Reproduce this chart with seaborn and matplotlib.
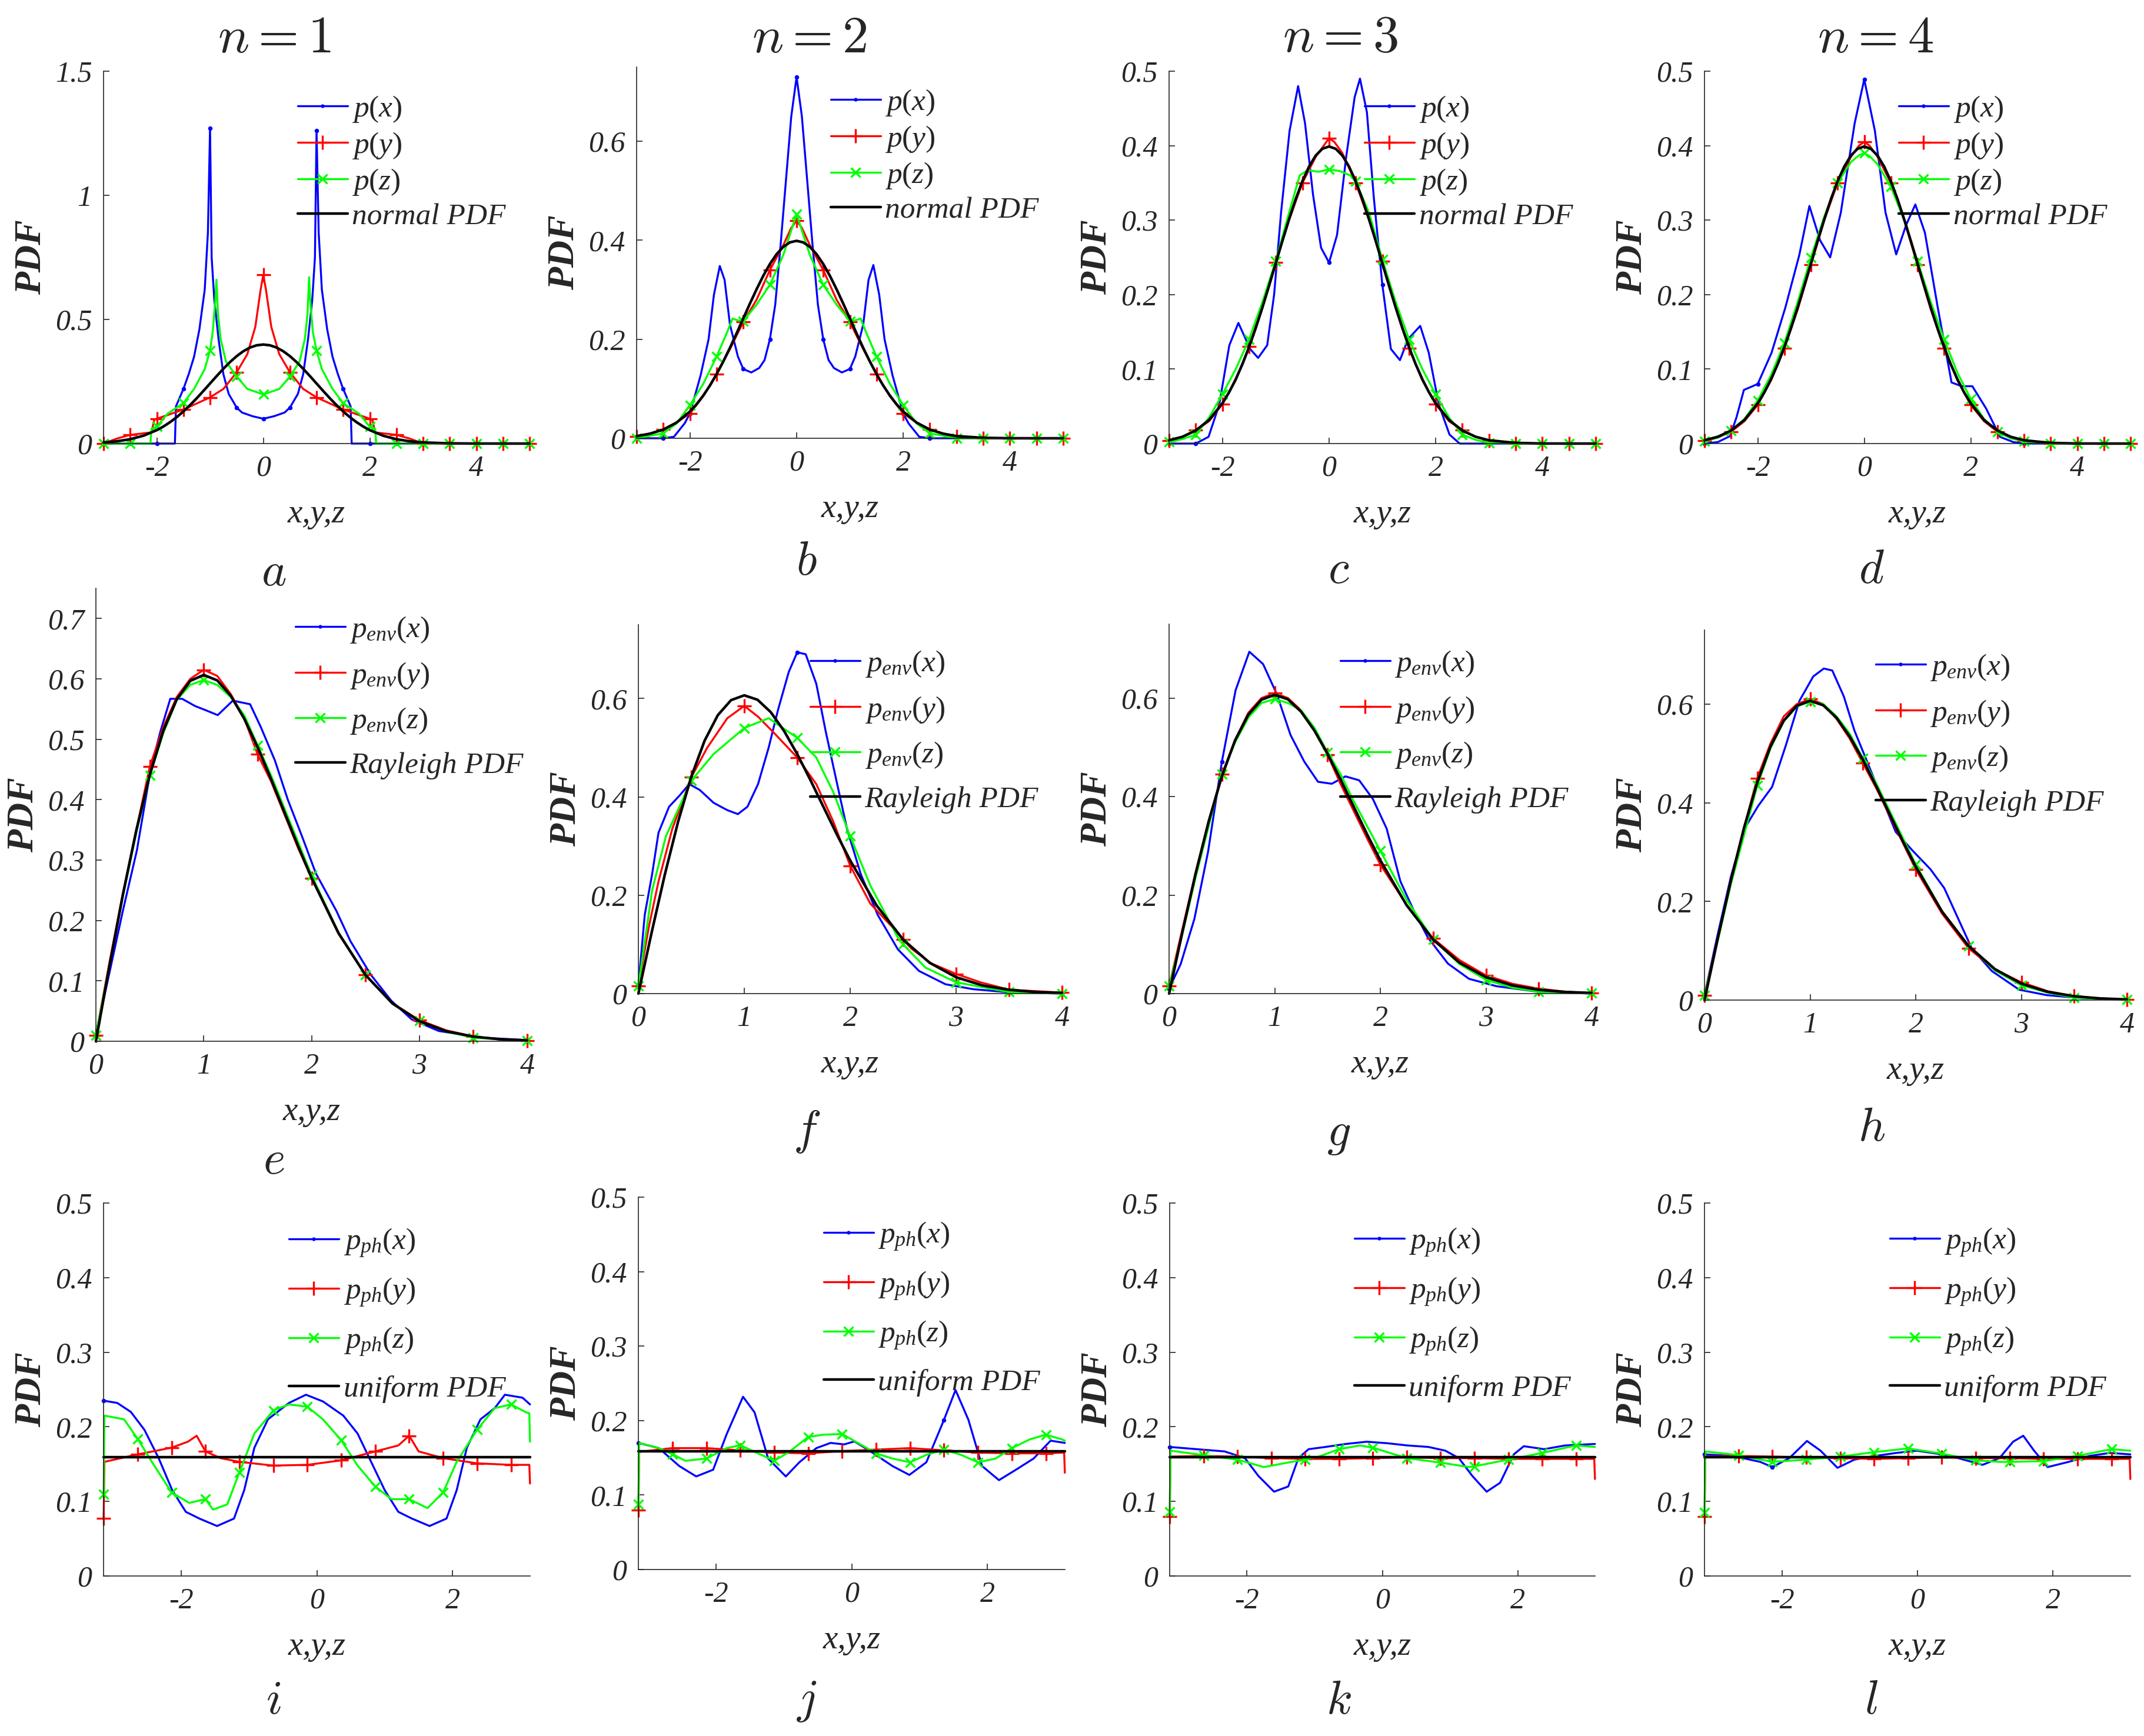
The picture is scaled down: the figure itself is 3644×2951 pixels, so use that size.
import numpy as np
import matplotlib
matplotlib.use("Agg")
import matplotlib.pyplot as plt
from matplotlib.lines import Line2D
import seaborn as sns

# -----------------------------
# DATA
# -----------------------------

# theoretical reference curves
norm_x = [-3, -2.75, -2.5, -2.25, -2, -1.875, -1.75, -1.625, -1.5, -1.375, -1.25, -1.125, -1,
          -0.875, -0.75, -0.625, -0.5, -0.375, -0.25, -0.125, 0, 0.125, 0.25, 0.375, 0.5, 0.625,
          0.75, 0.875, 1, 1.125, 1.25, 1.375, 1.5, 1.625, 1.75, 1.875, 2, 2.25, 2.5, 2.75, 3,
          3.5, 4, 4.5, 5]
norm_y = [0.0044, 0.0091, 0.0175, 0.0317, 0.0540, 0.0688, 0.0863, 0.1065, 0.1295, 0.1550, 0.1826,
          0.2119, 0.2420, 0.2721, 0.3011, 0.3282, 0.3521, 0.3719, 0.3867, 0.3958, 0.3989, 0.3958,
          0.3867, 0.3719, 0.3521, 0.3282, 0.3011, 0.2721, 0.2420, 0.2119, 0.1826, 0.1550, 0.1295,
          0.1065, 0.0863, 0.0688, 0.0540, 0.0317, 0.0175, 0.0091, 0.0044, 0.0009, 0.0001, 0.0, 0.0]

env_x = [0, 0.125, 0.25, 0.375, 0.5, 0.625, 0.75, 0.875, 1, 1.125, 1.25, 1.375, 1.5, 1.625,
         1.75, 1.875, 2, 2.25, 2.5, 2.75, 3, 3.25, 3.5, 3.75, 4]
ray_y = [0, 0.124, 0.2423, 0.3495, 0.4412, 0.5141, 0.5661, 0.5967, 0.6065, 0.5975, 0.5723,
         0.5343, 0.4870, 0.4340, 0.3785, 0.3233, 0.2707, 0.1791, 0.1098, 0.0627, 0.0333,
         0.0166, 0.0077, 0.0033, 0.0013]

unif_x = [-3.1416, 3.1416]
unif_y = [0.159, 0.159]

bell_x = [-3, -2.75, -2.5, -2.25, -2, -1.75, -1.5, -1.25, -1, -0.75, -0.5, -0.25, -0.1, 0, 0.1,
          0.25, 0.5, 0.75, 1, 1.25, 1.5, 1.75, 2, 2.25, 2.5, 2.75, 3, 3.5, 4, 4.5, 5]

# n = 1 (a)
a_blue_x = [-3, -2.5, -2, -1.66, -1.64, -1.5, -1.4, -1.3, -1.2, -1.1, -1.04, -1.0, -0.97, -0.92,
            -0.84, -0.75, -0.65, -0.5, -0.4, -0.2, 0, 0.2, 0.4, 0.5, 0.65, 0.75, 0.84, 0.92,
            0.97, 1.0, 1.04, 1.1, 1.2, 1.3, 1.4, 1.5, 1.64, 1.66, 2, 2.5, 3, 3.5, 4, 4.5, 5]
a_blue_y = [0, 0, 0, 0, 0.15, 0.22, 0.28, 0.35, 0.46, 0.62, 0.85, 1.27, 0.75, 0.58, 0.42, 0.28,
            0.2, 0.145, 0.125, 0.11, 0.10, 0.11, 0.125, 0.145, 0.2, 0.28, 0.42, 0.58, 0.75, 1.26,
            0.85, 0.62, 0.46, 0.35, 0.28, 0.22, 0.15, 0, 0, 0, 0, 0, 0, 0, 0]
a_red_x = [-3, -2.75, -2.5, -2.1, -2.05, -2, -1.5, -1, -0.75, -0.5, -0.3, -0.15, -0.05, 0, 0.05,
           0.15, 0.3, 0.5, 0.75, 1, 1.5, 2, 2.05, 2.1, 2.5, 2.75, 3, 3.5, 4, 4.5, 5]
a_red_y = [0, 0.02, 0.035, 0.045, 0.095, 0.1, 0.137, 0.186, 0.22, 0.287, 0.36, 0.47, 0.62, 0.68,
           0.62, 0.47, 0.36, 0.287, 0.22, 0.186, 0.137, 0.1, 0.095, 0.045, 0.035, 0.02, 0, 0, 0,
           0, 0]
a_green_x = [-3, -2.5, -2.12, -2.1, -2, -1.8, -1.5, -1.3, -1.1, -1.0, -0.95, -0.9, -0.88, -0.85,
             -0.8, -0.7, -0.5, -0.3, 0, 0.3, 0.5, 0.68, 0.78, 0.83, 0.86, 0.88, 0.93, 1.0, 1.1,
             1.3, 1.5, 1.8, 2, 2.1, 2.12, 2.5, 3, 3.5, 4, 4.5, 5]
a_green_y = [0, 0, 0, 0.06, 0.068, 0.12, 0.163, 0.22, 0.3, 0.375, 0.45, 0.58, 0.66, 0.52, 0.42,
             0.33, 0.27, 0.22, 0.198, 0.22, 0.27, 0.33, 0.42, 0.52, 0.67, 0.58, 0.45, 0.375, 0.3,
             0.22, 0.163, 0.12, 0.068, 0.06, 0, 0, 0, 0, 0, 0, 0]

# n = 2 (b)
b_blue_x = [-3, -2.5, -2.3, -2.1, -2.0, -1.8, -1.65, -1.55, -1.44, -1.35, -1.25, -1.1, -1.0,
            -0.85, -0.7, -0.6, -0.5, -0.4, -0.3, -0.2, -0.1, 0, 0.1, 0.2, 0.3, 0.4, 0.5, 0.6,
            0.7, 0.85, 1.0, 1.1, 1.25, 1.35, 1.44, 1.55, 1.65, 1.8, 2.0, 2.1, 2.3, 2.5, 3, 3.5,
            4, 4.5, 5]
b_blue_y = [0, 0, 0.003, 0.03, 0.05, 0.127, 0.2, 0.29, 0.348, 0.32, 0.23, 0.165, 0.14, 0.133,
            0.142, 0.158, 0.2, 0.27, 0.39, 0.52, 0.65, 0.73, 0.65, 0.52, 0.39, 0.27, 0.2, 0.158,
            0.142, 0.133, 0.14, 0.165, 0.23, 0.32, 0.35, 0.29, 0.2, 0.127, 0.05, 0.03, 0.003, 0,
            0, 0, 0, 0, 0]
b_red_y = [0.004, 0.01, 0.018, 0.032, 0.05, 0.085, 0.13, 0.18, 0.235, 0.28, 0.34, 0.39, 0.425,
           0.44, 0.425, 0.39, 0.34, 0.28, 0.235, 0.18, 0.13, 0.085, 0.05, 0.032, 0.018, 0.01,
           0.004, 0, 0, 0, 0]
b_green_x = [-3, -2.5, -2.25, -2, -1.75, -1.5, -1.3, -1.2, -1.1, -1, -0.75, -0.5, -0.25, -0.1, 0,
             0.1, 0.25, 0.5, 0.75, 1, 1.1, 1.2, 1.3, 1.5, 1.75, 2, 2.25, 2.5, 3, 3.5, 4, 4.5, 5]
b_green_y = [0, 0.01, 0.03, 0.067, 0.11, 0.165, 0.215, 0.242, 0.238, 0.237, 0.27, 0.31, 0.37,
             0.42, 0.453, 0.42, 0.37, 0.31, 0.27, 0.237, 0.238, 0.242, 0.215, 0.165, 0.11, 0.067,
             0.03, 0.01, 0, 0, 0, 0, 0]

# n = 3 (c)
c_blue_x = [-3, -2.5, -2.26, -2.06, -1.87, -1.7, -1.48, -1.33, -1.16, -1.03, -0.9, -0.74, -0.58,
            -0.45, -0.3, -0.15, 0, 0.15, 0.32, 0.48, 0.58, 0.71, 0.84, 1.0, 1.16, 1.33, 1.48,
            1.71, 1.87, 2.06, 2.26, 2.45, 3, 3.5, 4, 4.5, 5]
c_blue_y = [0, 0, 0.009, 0.052, 0.132, 0.162, 0.127, 0.115, 0.132, 0.2, 0.31, 0.42, 0.48, 0.43,
            0.334, 0.263, 0.243, 0.28, 0.384, 0.465, 0.49, 0.445, 0.33, 0.213, 0.127, 0.112,
            0.14, 0.158, 0.122, 0.052, 0.012, 0, 0, 0, 0, 0, 0]
c_red_y = [0.004, 0.009, 0.018, 0.03, 0.053, 0.085, 0.13, 0.185, 0.243, 0.3, 0.35, 0.385, 0.4,
           0.41, 0.405, 0.39, 0.35, 0.3, 0.245, 0.185, 0.128, 0.085, 0.053, 0.03, 0.018, 0.009,
           0.004, 0, 0, 0, 0]
c_green_x = [-3, -2.75, -2.5, -2.25, -2, -1.75, -1.5, -1.25, -1, -0.75, -0.55, -0.4, -0.2, 0,
             0.2, 0.4, 0.5, 0.75, 1, 1.25, 1.5, 1.75, 2, 2.25, 2.5, 2.75, 3, 3.5, 4, 4.5, 5]
c_green_y = [0.002, 0.006, 0.012, 0.035, 0.066, 0.1, 0.14, 0.19, 0.245, 0.31, 0.36, 0.367, 0.365,
             0.368, 0.366, 0.36, 0.352, 0.31, 0.247, 0.19, 0.14, 0.1, 0.066, 0.035, 0.012, 0.005,
             0.001, 0, 0, 0, 0]

# n = 4 (d)
d_blue_x = [-3, -2.75, -2.52, -2.4, -2.26, -2.0, -1.74, -1.48, -1.22, -1.03, -0.83, -0.64, -0.44,
            -0.18, 0, 0.2, 0.4, 0.6, 0.79, 0.96, 1.14, 1.38, 1.64, 1.83, 2.03, 2.29, 2.55, 2.8,
            3, 3.5, 4, 4.5, 5]
d_blue_y = [0, 0.002, 0.01, 0.035, 0.072, 0.08, 0.122, 0.183, 0.253, 0.319, 0.273, 0.25, 0.31,
            0.43, 0.489, 0.42, 0.31, 0.254, 0.294, 0.321, 0.283, 0.183, 0.082, 0.077, 0.077,
            0.047, 0.009, 0.002, 0, 0, 0, 0, 0]
d_red_y = [0.004, 0.008, 0.016, 0.03, 0.052, 0.085, 0.128, 0.18, 0.24, 0.3, 0.35, 0.385, 0.4,
           0.405, 0.4, 0.385, 0.35, 0.3, 0.24, 0.18, 0.128, 0.085, 0.052, 0.03, 0.016, 0.008,
           0.004, 0, 0, 0, 0]
d_green_y = [0.003, 0.008, 0.017, 0.033, 0.058, 0.092, 0.135, 0.19, 0.25, 0.305, 0.35, 0.378,
             0.387, 0.39, 0.386, 0.375, 0.345, 0.3, 0.245, 0.19, 0.14, 0.095, 0.06, 0.033, 0.016,
             0.007, 0.003, 0, 0, 0, 0]

# envelopes (e - h)
e_blue_x = [0, 0.13, 0.25, 0.38, 0.51, 0.6, 0.69, 0.8, 0.92, 1.02, 1.13, 1.27, 1.43, 1.53, 1.66,
            1.78, 1.91, 2.04, 2.23, 2.36, 2.55, 2.74, 2.93, 3.18, 3.57, 4]
e_blue_y = [0.011, 0.117, 0.216, 0.316, 0.452, 0.514, 0.567, 0.567, 0.555, 0.548, 0.54, 0.564,
            0.558, 0.52, 0.465, 0.4, 0.34, 0.278, 0.216, 0.166, 0.11, 0.067, 0.036, 0.017, 0.006,
            0.002]
e_red_y = [0.01, 0.13, 0.245, 0.35, 0.455, 0.52, 0.57, 0.6, 0.615, 0.605, 0.575, 0.535, 0.475,
           0.43, 0.375, 0.32, 0.27, 0.178, 0.11, 0.063, 0.035, 0.018, 0.008, 0.003, 0.001]
e_green_y = [0.01, 0.125, 0.24, 0.345, 0.44, 0.51, 0.565, 0.59, 0.598, 0.59, 0.57, 0.54, 0.49,
             0.44, 0.385, 0.33, 0.275, 0.18, 0.11, 0.062, 0.034, 0.016, 0.006, 0.003, 0.001]

f_blue_x = [0, 0.06, 0.13, 0.19, 0.29, 0.39, 0.48, 0.58, 0.71, 0.84, 0.94, 1.03, 1.13, 1.23, 1.32,
            1.42, 1.5, 1.58, 1.68, 1.77, 1.87, 1.97, 2.1, 2.26, 2.45, 2.65, 2.9, 3.16, 3.48, 4]
f_blue_y = [0.015, 0.16, 0.243, 0.327, 0.38, 0.403, 0.426, 0.414, 0.388, 0.373, 0.365, 0.38,
            0.426, 0.5, 0.578, 0.654, 0.694, 0.69, 0.63, 0.532, 0.433, 0.335, 0.243, 0.16, 0.09,
            0.046, 0.019, 0.009, 0.003, 0]
f_red_x = [0, 0.1, 0.19, 0.32, 0.5, 0.65, 0.84, 1.0, 1.13, 1.29, 1.5, 1.68, 1.84, 2.0, 2.19, 2.39,
           2.5, 2.58, 2.77, 3.0, 3.23, 3.5, 4]
f_red_y = [0.015, 0.137, 0.228, 0.335, 0.44, 0.5, 0.56, 0.585, 0.563, 0.528, 0.48, 0.426, 0.35,
           0.26, 0.183, 0.137, 0.11, 0.091, 0.061, 0.04, 0.023, 0.008, 0.002]
f_green_x = [0, 0.13, 0.26, 0.5, 0.71, 1.0, 1.23, 1.5, 1.68, 1.84, 2.0, 2.19, 2.45, 2.5, 2.71, 3.0,
             3.5, 4]
f_green_y = [0.015, 0.21, 0.32, 0.433, 0.487, 0.54, 0.56, 0.52, 0.48, 0.41, 0.32, 0.22, 0.114,
             0.1, 0.053, 0.023, 0.003, 0]

g_blue_x = [0, 0.11, 0.24, 0.37, 0.5, 0.63, 0.76, 0.89, 1.02, 1.15, 1.28, 1.41, 1.54, 1.67, 1.8,
            1.93, 2.06, 2.19, 2.32, 2.45, 2.64, 2.84, 3.1, 3.49, 4]
g_blue_y = [0.01, 0.06, 0.152, 0.289, 0.471, 0.616, 0.694, 0.669, 0.608, 0.525, 0.471, 0.43,
            0.426, 0.441, 0.433, 0.395, 0.335, 0.228, 0.167, 0.114, 0.061, 0.03, 0.015, 0.004, 0]
g_red_y = [0.015, 0.13, 0.245, 0.35, 0.445, 0.515, 0.57, 0.6, 0.61, 0.6, 0.575, 0.535, 0.485,
           0.425, 0.37, 0.315, 0.262, 0.18, 0.112, 0.068, 0.037, 0.02, 0.01, 0.004, 0.001]
g_green_y = [0.015, 0.12, 0.235, 0.34, 0.445, 0.51, 0.56, 0.59, 0.598, 0.59, 0.575, 0.54, 0.49,
             0.445, 0.39, 0.34, 0.29, 0.19, 0.11, 0.06, 0.028, 0.012, 0.004, 0.002, 0.001]

h_blue_x = [0, 0.12, 0.25, 0.38, 0.51, 0.64, 0.77, 0.9, 1.03, 1.13, 1.21, 1.32, 1.42, 1.55, 1.68,
            1.81, 1.97, 2.14, 2.27, 2.4, 2.53, 2.72, 2.98, 3.24, 3.56, 4]
h_blue_y = [0.01, 0.128, 0.25, 0.348, 0.394, 0.432, 0.516, 0.607, 0.656, 0.672, 0.668, 0.615,
            0.546, 0.478, 0.409, 0.341, 0.303, 0.265, 0.227, 0.166, 0.105, 0.059, 0.021, 0.01,
            0.004, 0.001]
h_red_y = [0.01, 0.125, 0.245, 0.35, 0.45, 0.52, 0.575, 0.6, 0.61, 0.6, 0.57, 0.53, 0.48, 0.43,
           0.375, 0.32, 0.265, 0.175, 0.105, 0.062, 0.036, 0.018, 0.008, 0.003, 0.001]
h_green_y = [0.01, 0.12, 0.235, 0.335, 0.435, 0.51, 0.565, 0.595, 0.605, 0.6, 0.575, 0.54, 0.49,
             0.44, 0.385, 0.33, 0.275, 0.18, 0.11, 0.06, 0.03, 0.015, 0.005, 0.002, 0.001]

# phases (i - l)
i_blue_x = [-3.14, -2.94, -2.74, -2.54, -2.33, -2.13, -1.93, -1.73, -1.47, -1.22, -1.07, -0.92,
            -0.72, -0.41, -0.16, 0.09, 0.39, 0.6, 0.8, 1.0, 1.2, 1.4, 1.66, 1.91, 2.06, 2.21,
            2.41, 2.62, 2.77, 3.03, 3.14]
i_blue_y = [0.235, 0.232, 0.22, 0.196, 0.158, 0.115, 0.086, 0.077, 0.067, 0.077, 0.115, 0.172,
            0.21, 0.232, 0.243, 0.234, 0.215, 0.191, 0.153, 0.115, 0.086, 0.077, 0.067, 0.077,
            0.115, 0.172, 0.21, 0.225, 0.243, 0.239, 0.23]
i_red_x = [-3.14, -3.13, -2.64, -2.14, -1.9, -1.77, -1.64, -1.42, -1.14, -0.64, -0.14, 0.36,
           0.86, 1.2, 1.36, 1.5, 1.86, 2.36, 2.86, 3.13, 3.14]
i_red_y = [0.077, 0.153, 0.163, 0.172, 0.18, 0.188, 0.167, 0.158, 0.153, 0.148, 0.149, 0.155,
           0.167, 0.175, 0.188, 0.167, 0.158, 0.151, 0.149, 0.149, 0.124]
i_green_x = [-3.14, -3.13, -2.84, -2.64, -2.43, -2.14, -1.88, -1.64, -1.53, -1.32, -1.14, -0.92,
             -0.64, -0.41, -0.14, 0.09, 0.36, 0.6, 0.86, 1.1, 1.36, 1.63, 1.86, 2.06, 2.36, 2.62,
             2.86, 3.07, 3.13, 3.14]
i_green_y = [0.11, 0.215, 0.21, 0.184, 0.153, 0.112, 0.098, 0.103, 0.089, 0.096, 0.139, 0.191,
             0.222, 0.23, 0.227, 0.21, 0.182, 0.148, 0.12, 0.103, 0.103, 0.091, 0.112, 0.153,
             0.196, 0.225, 0.23, 0.22, 0.218, 0.18]

ph_red_x = [-3.14, -3.13, -2.64, -2.14, -1.64, -1.14, -0.64, -0.14, 0.36, 0.86, 1.36, 1.86, 2.36,
            2.86, 3.13, 3.14]

j_blue_x = [-3.14, -2.84, -2.54, -2.29, -2.04, -1.84, -1.6, -1.43, -1.23, -0.97, -0.77, -0.52,
            -0.31, -0.11, 0.04, 0.29, 0.6, 0.85, 1.1, 1.36, 1.53, 1.72, 1.92, 2.17, 2.42, 2.68,
            2.93, 3.14]
j_blue_y = [0.17, 0.163, 0.139, 0.125, 0.134, 0.182, 0.232, 0.211, 0.149, 0.125, 0.144, 0.163,
            0.17, 0.168, 0.172, 0.158, 0.139, 0.127, 0.144, 0.201, 0.241, 0.201, 0.139, 0.12,
            0.134, 0.149, 0.173, 0.17]
j_red_y = [0.08, 0.158, 0.163, 0.163, 0.16, 0.157, 0.156, 0.159, 0.161, 0.163, 0.16, 0.157, 0.156,
           0.156, 0.157, 0.13]
j_green_x = [-3.14, -3.13, -2.84, -2.64, -2.45, -2.14, -1.84, -1.64, -1.43, -1.14, -0.92, -0.64,
             -0.42, -0.14, 0.09, 0.36, 0.6, 0.86, 1.1, 1.36, 1.61, 1.86, 2.12, 2.36, 2.63, 2.86,
             3.09, 3.14]
j_green_y = [0.088, 0.17, 0.163, 0.155, 0.146, 0.149, 0.163, 0.167, 0.158, 0.146, 0.158, 0.178,
             0.181, 0.182, 0.17, 0.156, 0.149, 0.144, 0.154, 0.161, 0.154, 0.144, 0.149, 0.163,
             0.175, 0.181, 0.175, 0.173]

k_blue_x = [-3.14, -2.74, -2.33, -2.03, -1.83, -1.6, -1.39, -1.24, -1.09, -0.84, -0.54, -0.23,
            0.07, 0.37, 0.68, 0.93, 1.13, 1.33, 1.54, 1.74, 1.94, 2.09, 2.39, 2.7, 3.14]
k_blue_y = [0.173, 0.17, 0.167, 0.158, 0.134, 0.113, 0.12, 0.158, 0.17, 0.173, 0.177, 0.18,
            0.178, 0.175, 0.173, 0.168, 0.158, 0.134, 0.113, 0.125, 0.163, 0.174, 0.17, 0.175,
            0.177]
k_red_y = [0.08, 0.16, 0.161, 0.16, 0.158, 0.157, 0.157, 0.158, 0.159, 0.158, 0.158, 0.157, 0.157,
           0.157, 0.157, 0.13]
k_green_x = [-3.14, -3.13, -2.64, -2.14, -1.75, -1.34, -1.14, -0.94, -0.64, -0.33, -0.14, 0.36,
             0.86, 1.28, 1.36, 1.69, 1.86, 2.09, 2.36, 2.86, 3.14]
k_green_y = [0.086, 0.168, 0.162, 0.156, 0.146, 0.153, 0.156, 0.16, 0.17, 0.175, 0.172, 0.158,
             0.152, 0.146, 0.147, 0.153, 0.156, 0.16, 0.165, 0.175, 0.173]

l_blue_x = [-3.14, -2.73, -2.32, -2.14, -1.89, -1.63, -1.43, -1.18, -0.93, -0.62, -0.31, -0.01,
            0.29, 0.6, 0.96, 1.21, 1.41, 1.56, 1.72, 1.92, 2.23, 2.54, 2.84, 3.14]
l_blue_y = [0.163, 0.161, 0.153, 0.146, 0.158, 0.181, 0.168, 0.145, 0.156, 0.161, 0.165, 0.168,
            0.164, 0.158, 0.149, 0.158, 0.18, 0.188, 0.168, 0.146, 0.153, 0.161, 0.165, 0.163]
l_red_y = [0.08, 0.16, 0.161, 0.16, 0.159, 0.158, 0.157, 0.158, 0.159, 0.158, 0.158, 0.157, 0.157,
           0.157, 0.157, 0.13]
l_green_x = [-3.14, -3.13, -2.64, -2.14, -1.64, -1.14, -0.64, -0.14, 0.36, 0.86, 1.21, 1.36,
             1.86, 2.36, 2.86, 3.14]
l_green_y = [0.085, 0.167, 0.162, 0.153, 0.156, 0.16, 0.166, 0.171, 0.164, 0.155, 0.153, 0.153,
             0.154, 0.161, 0.17, 0.168]

titles = ["$n=1$", "$n=2$", "$n=3$", "$n=4$"]
row_labels = {
    1: ["$p(x)$", "$p(y)$", "$p(z)$", "normal PDF"],
    2: ["$p_{env}(x)$", "$p_{env}(y)$", "$p_{env}(z)$", "Rayleigh PDF"],
    3: ["$p_{ph}(x)$", "$p_{ph}(y)$", "$p_{ph}(z)$", "uniform PDF"],
}

# -----------------------------
# STYLE / LAYOUT
# -----------------------------
W, H = 3644, 2951
BLUE, RED, GREEN, BLACK = "#0000ff", "#ff0000", "#00ff00", "#000000"
INK = "#262626"
FS_TICK, FS_LEG, FS_XLAB, FS_YLAB, FS_BIG, FS_LET = 36, 37, 41, 46, 64, 58

sns.set_style("ticks")
plt.rcParams["font.family"] = ["Liberation Serif", "DejaVu Serif"]
plt.rcParams["mathtext.fontset"] = "custom"
plt.rcParams["mathtext.rm"] = "Liberation Serif"
plt.rcParams["mathtext.it"] = "Liberation Serif:italic"
plt.rcParams["mathtext.bf"] = "Liberation Serif:bold"
plt.rcParams["axes.unicode_minus"] = False

fig = plt.figure(figsize=(W / 100, H / 100), dpi=100)

row_xlim = {1: (-3, 5), 2: (0, 4), 3: (-np.pi, np.pi)}
row_xticks = {1: [-2, 0, 2, 4], 2: [0, 1, 2, 3, 4], 3: [-2, 0, 2]}
row_marks = {1: np.arange(-3, 5.01, 0.5), 2: np.arange(0, 4.01, 0.5),
             3: -3.14 + 0.5 * np.arange(13)}
row_ref = {1: (norm_x, norm_y), 2: (env_x, ray_y), 3: (unif_x, unif_y)}
leg_dy = {1: 22, 2: 28, 3: 28}
leg_ls = {1: 0.21, 2: 0.52, 3: 0.56}

# letter, row, axes box px (l, t, r, b), blue, red, green, ylim, yticks, legend px, letter px
panels = [
    ("a", 1, (176, 121, 900, 754), (a_blue_x, a_blue_y), (a_red_x, a_red_y),
     (a_green_x, a_green_y), 1.5, [0, 0.5, 1, 1.5], (506, 182), (465, 976)),
    ("b", 1, (1082, 114, 1807, 745), (b_blue_x, b_blue_y), (bell_x, b_red_y),
     (b_green_x, b_green_y), 0.75, [0, 0.2, 0.4, 0.6], (1412, 171), (1371, 957)),
    ("c", 1, (1987, 121, 2712, 754), (c_blue_x, c_blue_y), (bell_x, c_red_y),
     (c_green_x, c_green_y), 0.5, [0, 0.1, 0.2, 0.3, 0.4, 0.5], (2319, 182), (2275, 971)),
    ("d", 1, (2897, 121, 3621, 754), (d_blue_x, d_blue_y), (bell_x, d_red_y),
     (bell_x, d_green_y), 0.5, [0, 0.1, 0.2, 0.3, 0.4, 0.5], (3227, 182), (3181, 971)),
    ("e", 2, (163, 1000, 896, 1770), (e_blue_x, e_blue_y), (env_x, e_red_y),
     (env_x, e_green_y), 0.75, [0, 0.1, 0.2, 0.3, 0.4, 0.5, 0.6, 0.7], (502, 1073), (465, 1975)),
    ("f", 2, (1085, 1062, 1805, 1689), (f_blue_x, f_blue_y), (f_red_x, f_red_y),
     (f_green_x, f_green_y), 0.75, [0, 0.2, 0.4, 0.6], (1377, 1131), (1371, 1924)),
    ("g", 2, (1987, 1061, 2705, 1689), (g_blue_x, g_blue_y), (env_x, g_red_y),
     (env_x, g_green_y), 0.75, [0, 0.2, 0.4, 0.6], (2278, 1131), (2275, 1929)),
    ("h", 2, (2897, 1071, 3615, 1700), (h_blue_x, h_blue_y), (env_x, h_red_y),
     (env_x, h_green_y), 0.75, [0, 0.2, 0.4, 0.6], (3188, 1137), (3181, 1920)),
    ("i", 3, (176, 2045, 901, 2679), (i_blue_x, i_blue_y), (i_red_x, i_red_y),
     (i_green_x, i_green_y), 0.5, [0, 0.1, 0.2, 0.3, 0.4, 0.5], (491, 2114), (465, 2893)),
    ("j", 3, (1085, 2035, 1810, 2668), (j_blue_x, j_blue_y), (ph_red_x, j_red_y),
     (j_green_x, j_green_y), 0.5, [0, 0.1, 0.2, 0.3, 0.4, 0.5], (1400, 2103), (1371, 2893)),
    ("k", 3, (1988, 2045, 2711, 2679), (k_blue_x, k_blue_y), (ph_red_x, k_red_y),
     (k_green_x, k_green_y), 0.5, [0, 0.1, 0.2, 0.3, 0.4, 0.5], (2302, 2113), (2275, 2893)),
    ("l", 3, (2897, 2045, 3621, 2679), (l_blue_x, l_blue_y), (ph_red_x, l_red_y),
     (l_green_x, l_green_y), 0.5, [0, 0.1, 0.2, 0.3, 0.4, 0.5], (3212, 2113), (3181, 2893)),
]

styles = [(BLUE, ".", 6), (RED, "+", 17), (GREEN, "x", 12)]

for letter, row, (l, t, r, b), blue, red, green, ytop, yticks, (lx, ly), (tx, ty) in panels:
    ax = fig.add_axes([l / W, 1 - b / H, (r - l) / W, (b - t) / H])
    marks = row_marks[row]
    for (xs, ys), (col, mk, ms) in zip([blue, red, green], styles):
        idx = [i for i, v in enumerate(xs) if np.isclose(marks, v, atol=0.005).any()]
        sns.lineplot(x=xs, y=ys, ax=ax, color=col, lw=2.4, marker=mk, markevery=idx,
                     ms=ms, mew=2.4, mec=col, mfc=col, estimator=None, sort=False,
                     legend=False, clip_on=False)
    rx, ry = row_ref[row]
    sns.lineplot(x=rx, y=ry, ax=ax, color=BLACK, lw=3.2, estimator=None, sort=False,
                 legend=False, clip_on=False)

    ax.set_xlim(*row_xlim[row])
    ax.set_ylim(0, ytop)
    xt = row_xticks[row]
    ax.set_xticks(xt, [f"{v:g}" for v in xt], fontsize=FS_TICK, fontstyle="italic")
    ax.set_yticks(yticks, [f"{v:g}" for v in yticks], fontsize=FS_TICK, fontstyle="italic")
    ax.tick_params(direction="in", length=7, width=1.2, pad=14, colors=INK,
                   top=False, right=False)
    for s in ["top", "right"]:
        ax.spines[s].set_visible(False)
    for s in ["left", "bottom"]:
        ax.spines[s].set_color(INK)
        ax.spines[s].set_linewidth(1.2)

    w_px, h_px = r - l, b - t
    ax.set_xlabel("x,y,z", fontsize=FS_XLAB, fontstyle="italic", color=INK)
    ax.xaxis.set_label_coords(0.5, -120 / h_px)
    ax.xaxis.label.set_va("center")
    ax.set_ylabel("PDF", fontsize=FS_YLAB, fontstyle="italic", fontweight="bold", color=INK)
    ax.yaxis.set_label_coords(-122 / w_px, 0.5)
    ax.yaxis.label.set_va("center")

    handles = [Line2D([], [], color=BLUE, lw=2.4, marker=".", ms=7, mec=BLUE),
               Line2D([], [], color=RED, lw=2.4, marker="+", ms=17, mew=2.4),
               Line2D([], [], color=GREEN, lw=2.4, marker="x", ms=12, mew=2.4),
               Line2D([], [], color=BLACK, lw=3.2)]
    ax.legend(handles, row_labels[row], loc="upper left",
              bbox_to_anchor=(lx / W, 1 - (ly - leg_dy[row]) / H),
              bbox_transform=fig.transFigure, frameon=False,
              prop={"family": "Liberation Serif", "style": "italic", "size": FS_LEG},
              handlelength=1.65, handletextpad=0.15, labelspacing=leg_ls[row],
              borderpad=0, borderaxespad=0, numpoints=1)

    fig.text(tx / W, 1 - ty / H, f"${letter}$", fontsize=FS_LET, ha="center", va="center",
             math_fontfamily="cm")

for txt, x in zip(titles, [466, 1376, 2278, 3188]):
    fig.text(x / W, 1 - 67 / H, txt, fontsize=FS_BIG, ha="center", va="center",
             math_fontfamily="cm")

fig.savefig("out.png", dpi=100)
